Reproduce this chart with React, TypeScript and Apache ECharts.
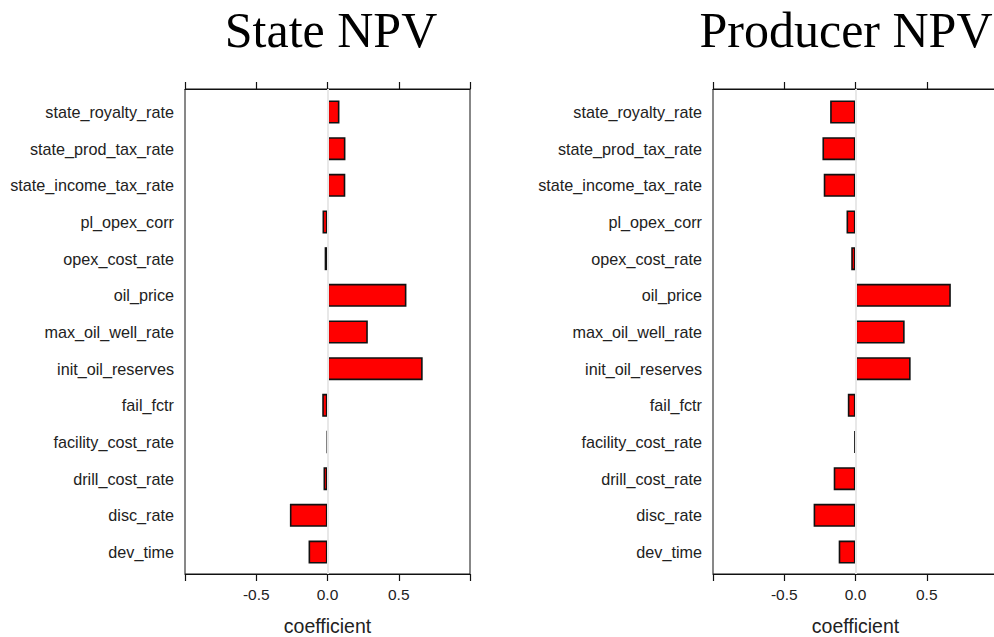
import React, { useEffect, useRef } from "react";
import * as echarts from "echarts";

const categories = [
  "state_royalty_rate",
  "state_prod_tax_rate",
  "state_income_tax_rate",
  "pl_opex_corr",
  "opex_cost_rate",
  "oil_price",
  "max_oil_well_rate",
  "init_oil_reserves",
  "fail_fctr",
  "facility_cost_rate",
  "drill_cost_rate",
  "disc_rate",
  "dev_time",
];

const stateNpv = [0.084, 0.126, 0.125, -0.035, -0.02, 0.554, 0.283, 0.668, -0.037, -0.003, -0.028, -0.264, -0.133];
const producerNpv = [-0.178, -0.232, -0.223, -0.063, -0.03, 0.669, 0.345, 0.387, -0.054, -0.008, -0.153, -0.294, -0.118];

const panelTitles = ["State NPV", "Producer NPV"];
const axisName = "coefficient";

const SANS = "'Liberation Sans', Arial, sans-serif";
const SERIF = "'Liberation Serif', 'Times New Roman', serif";

export default function App() {
  const ref = useRef<HTMLDivElement>(null);

  useEffect(() => {
    if (!ref.current) return;
    const chart = echarts.init(ref.current, undefined, { renderer: "svg" });

    const panels = [
      { left: 185, values: stateNpv, titleX: 331 },
      { left: 713, values: producerNpv, titleX: 846 },
    ];
    const frameTop = 89;
    const frameHeight = 485;
    const frameWidth = 285;
    const band = 36.67;
    const barTop = 112 - band / 2;

    const grid: any[] = [];
    const xAxis: any[] = [];
    const yAxis: any[] = [];
    const series: any[] = [];

    const tickStyle = { show: true, inside: false, length: 7, lineStyle: { color: "#111", width: 1.2 } };
    const lineStyle = { show: true, onZero: false, lineStyle: { color: "#111", width: 1 } };

    panels.forEach((p) => {
      // frame grid
      const fg = grid.length;
      grid.push({
        left: p.left,
        top: frameTop,
        width: frameWidth,
        height: frameHeight,
        show: true,
        borderColor: "#111",
        borderWidth: 1,
        backgroundColor: "transparent",
        outerBoundsMode: "none",
        containLabel: false,
      });
      xAxis.push({
        type: "value",
        gridIndex: fg,
        position: "top",
        min: -1,
        max: 1,
        interval: 0.5,
        axisLine: lineStyle,
        axisTick: tickStyle,
        axisLabel: { show: false },
        splitLine: { show: false },
      });
      const fxBot = xAxis.length;
      xAxis.push({
        type: "value",
        gridIndex: fg,
        position: "bottom",
        min: -1,
        max: 1,
        interval: 0.5,
        name: axisName,
        nameLocation: "middle",
        nameGap: 42,
        nameTextStyle: { fontFamily: SANS, fontSize: 19.5, color: "#222" },
        axisLine: lineStyle,
        axisTick: tickStyle,
        axisLabel: {
          show: true,
          margin: 12,
          fontFamily: SANS,
          fontSize: 15.5,
          color: "#222",
          formatter: (v: number) => (Math.abs(v) > 0.99 ? "" : v.toFixed(1)),
        },
        splitLine: { show: false },
      });
      const fy = yAxis.length;
      yAxis.push({
        type: "value",
        gridIndex: fg,
        min: 0,
        max: 1,
        show: false,
      });
      series.push({
        type: "line",
        xAxisIndex: fxBot,
        yAxisIndex: fy,
        data: [],
        z: 1,
        silent: true,
        markLine: {
          silent: true,
          symbol: "none",
          label: { show: false },
          lineStyle: { color: "#e8e8e8", width: 2, type: "solid" },
          data: [{ xAxis: 0 }],
        },
      });

      // bar grid
      const bg = grid.length;
      grid.push({
        left: p.left,
        top: barTop,
        width: frameWidth,
        height: band * categories.length,
        outerBoundsMode: "none",
        containLabel: false,
      });
      const bx = xAxis.length;
      xAxis.push({
        type: "value",
        gridIndex: bg,
        min: -1,
        max: 1,
        show: false,
        splitLine: { show: false },
      });
      const by = yAxis.length;
      yAxis.push({
        type: "category",
        gridIndex: bg,
        data: categories,
        inverse: true,
        axisLine: { show: false },
        axisTick: { show: false },
        splitLine: { show: false },
        axisLabel: {
          margin: 11,
          fontFamily: SANS,
          fontSize: 16.2,
          color: "#222",
        },
      });
      series.push({
        type: "bar",
        xAxisIndex: bx,
        yAxisIndex: by,
        data: p.values,
        barWidth: 23,
        z: 3,
        itemStyle: { color: "#ff0000", borderColor: "#111", borderWidth: 1.6 },
      });
    });

    chart.setOption({
      animation: false,
      backgroundColor: "#ffffff",
      grid,
      xAxis,
      yAxis,
      series,
      graphic: panels.map((p, i) => ({
        type: "text",
        x: p.titleX,
        y: 30,
        style: {
          text: panelTitles[i],
          font: `50px ${SERIF}`,
          fill: "#000",
          textAlign: "center",
          textVerticalAlign: "middle",
        },
      })),
    });

    return () => chart.dispose();
  }, []);

  return (
    <div
      ref={ref}
      style={{ width: 994, height: 637, position: "absolute", left: 0, top: 0 }}
    />
  );
}
